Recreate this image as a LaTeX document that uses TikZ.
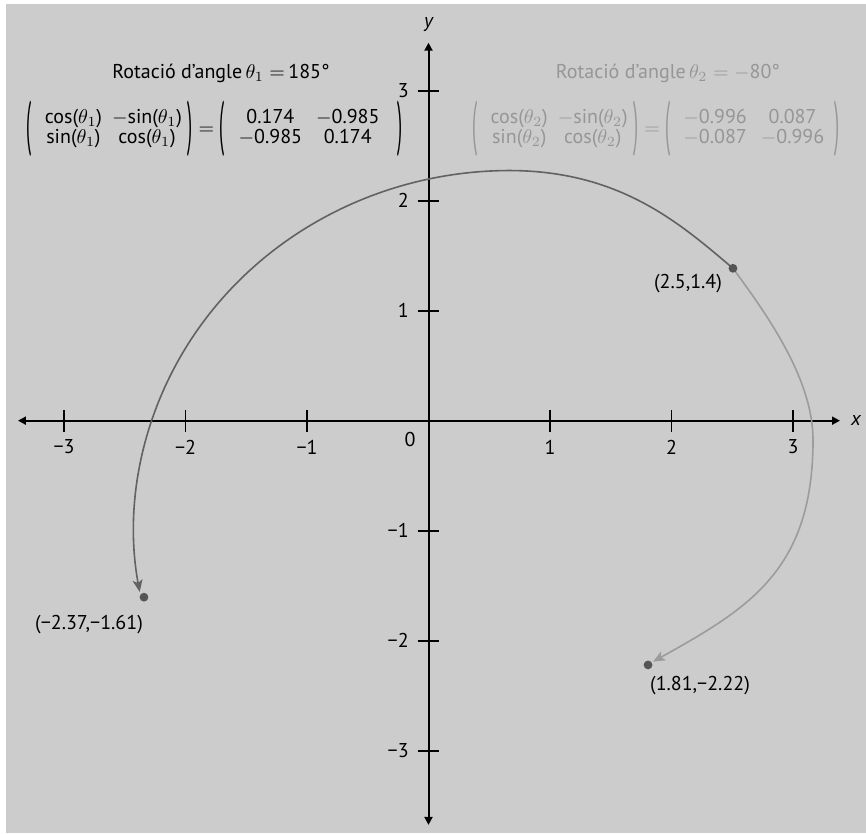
\documentclass[tikz,border=0pt]{standalone}
\usepackage{fontspec}
\usepackage{graphicx}
\setmainfont{PT Sans}
\usetikzlibrary{arrows.meta}
\definecolor{bg}{HTML}{CCCCCC}
\definecolor{darkc}{HTML}{626262}
\definecolor{lightc}{HTML}{9C9C9C}
\definecolor{dotc}{HTML}{555555}
\definecolor{greytext}{HTML}{969696}
\newcommand{\lpar}{\vcenter{\hbox{\scalebox{0.9}[3.0]{(}}}}
\newcommand{\rpar}{\vcenter{\hbox{\scalebox{0.9}[3.0]{)}}}}
\renewcommand{\arraystretch}{0.82}
\begin{document}
\begin{tikzpicture}[x=60.75pt,y=55pt,font=\fontsize{10}{12}\selectfont,
  axisline/.style={line width=1pt,{Triangle[length=4pt,width=4pt]}-{Triangle[length=4pt,width=4pt]}},
  tickmark/.style={line width=0.9pt},
  dot/.style={circle,fill=dotc,inner sep=0pt,minimum size=4.4pt},
  darkcurve/.style={darkc,line width=0.8pt,-{Stealth[length=6pt,width=5pt,inset=1.5pt]}},
  lightcurve/.style={lightc,line width=0.8pt,-{Stealth[length=6pt,width=5pt,inset=1.5pt]}},
  lbl/.style={inner sep=0pt}]
\useasboundingbox (-3.527,-3.757) rectangle (3.601,3.8245);
\fill[bg] (-3.477,-3.748) rectangle (3.601,3.788);
% axes
\coordinate (xl) at (-3.379,0);
\coordinate (xr) at (3.387,0);
\coordinate (yb) at (0,-3.675);
\coordinate (yt) at (0,3.436);
\draw[axisline] (xl) -- (xr);
\draw[axisline] (yb) -- (yt);
\node[lbl] (xlab) at (3.518,0) {\itshape x};
\node[lbl] (ylab) at (0,3.6) {\itshape y};
% ticks
\foreach \v/\t in {-3/−3,-2/−2,-1/−1,1/1,2/2,3/3}{
  \draw[tickmark] (\v,-0.1) -- (\v,0.1);
  \node[lbl] (xt\v) at (\v,-0.239) {\t};
  \draw[tickmark] (-0.09,\v) -- (0.09,\v);
  \node[lbl,anchor=east] (yt\v) at (-0.16,\v) {\t};
}
\node[lbl] (zero) at (-0.152,-0.175) {0};
% points and rotation paths
\coordinate (pAc) at (2.506,1.385);
\coordinate (tipB) at (1.848,-2.191);
\draw[darkcurve] (pAc) .. controls (2.066,1.798) and (1.576,2.270) .. (0.671,2.274)
  arc[start angle=90,end angle=190,x radius=3.095,y radius=3.264];
\draw[lightcurve] (pAc) .. controls (2.798,0.948) and (3.165,0.370) .. (3.165,-0.175)
  .. controls (3.165,-1.357) and (2.639,-1.705) .. (tipB);
\node[dot] (pA) at (pAc) {};
\node[dot] (pB) at (-2.342,-1.605) {};
\node[dot] (pC) at (1.807,-2.221) {};
\node[lbl] (lA) at (2.136,1.243) {(2.5,1.4)};
\node[lbl] (lB) at (-2.794,-1.857) {(−2.37,−1.61)};
\node[lbl] (lC) at (2.235,-2.412) {(1.81,−2.22)};
% left block
\node[lbl] (t1) at (-1.708,3.161) {Rotació d’angle\,$\theta_1 =$\,185°};
\node[lbl] (m1) at (-1.76,2.65) {$\lpar\begin{tabular}{@{\hspace{6.5pt}}c@{\hspace{5pt}}c@{\hspace{3pt}}}cos($\theta_1$) & $-$sin($\theta_1$)\\ sin($\theta_1$) & cos($\theta_1$)\end{tabular}\rpar=\lpar\begin{tabular}{@{\hspace{7pt}}c@{\hspace{7pt}}c@{\hspace{9pt}}}0.174 & $-$0.985\\ $-$0.985 & 0.174\end{tabular}\rpar$};
% right block
\node[lbl,text=greytext] (t2) at (1.971,3.161) {Rotació d’angle\,$\theta_2 = -$80°};
\node[lbl,text=greytext] (m2) at (1.872,2.65) {$\lpar\begin{tabular}{@{\hspace{6.5pt}}c@{\hspace{5pt}}c@{\hspace{3pt}}}cos($\theta_2$) & $-$sin($\theta_2$)\\ sin($\theta_2$) & cos($\theta_2$)\end{tabular}\rpar=\lpar\begin{tabular}{@{\hspace{6.5pt}}c@{\hspace{7pt}}c@{\hspace{5pt}}}$-$0.996 & 0.087\\ $-$0.087 & $-$0.996\end{tabular}\rpar$};
\end{tikzpicture}
\end{document}
